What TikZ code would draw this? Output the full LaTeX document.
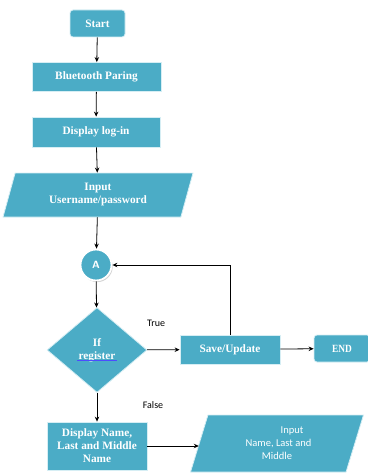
\documentclass[tikz,border=0pt]{standalone}
\usepackage{fontspec}
\setmainfont{Liberation Serif}
\newfontfamily\labelfont{Carlito}
\usetikzlibrary{shapes.geometric,shadows,arrows.meta}
\definecolor{flowblue}{HTML}{4BACC6}
\definecolor{edgeblue}{HTML}{D6EEF4}
\begin{document}
\begin{tikzpicture}[x=1pt,y=-1pt,
  box/.style={draw=edgeblue, line width=0.8pt, fill=flowblue, text=white,
    font=\bfseries\fontsize{11.3}{13}\selectfont, align=center, inner sep=0pt},
  iobox/.style={box, trapezium, trapezium stretches body,
    trapezium left angle=62, trapezium right angle=118},
  conn/.style={-{Stealth[length=5pt,width=4.5pt]}, line width=0.8pt},
  lbl/.style={font=\labelfont\fontsize{10}{12}\selectfont}]
\useasboundingbox (0,0) rectangle (367,473);

% main column
\node[box, rounded corners=3pt, minimum width=55pt, minimum height=27pt] (start) at (97.5,23.5) {Start};
\node[box, minimum width=129pt, minimum height=29pt] (bt) at (96.5,77) {Bluetooth Paring};
\node[box, minimum width=128pt, minimum height=30pt] (login) at (96,132) {Display log-in};
\node[iobox, minimum width=190pt, minimum height=44pt] (input) at (98,195)
      {Input\\Username/password};
\node[circle, fill=flowblue, draw=white, line width=1.8pt, minimum size=31pt, inner sep=0pt,
      text=white, font=\sffamily\bfseries\fontsize{10.5}{12}\selectfont,
      drop shadow={shadow xshift=1.2pt, shadow yshift=-1.6pt, fill=black!35}] (a) at (96,265) {A};
\node[box, diamond, aspect=1.18, minimum width=100pt, minimum height=85pt] (dec) at (97,350)
      {If\\register};
\draw[blue!70, line width=0.7pt] ([xshift=-20pt,yshift=-10pt]dec.center) -- ([xshift=20pt,yshift=-10pt]dec.center);
\node[box, minimum width=100pt, minimum height=48pt] (disp) at (97,446)
      {Display Name,\\Last and Middle\\Name};

% right branch
\node[box, minimum width=100pt, minimum height=29pt] (save) at (230,349.5) {Save/Update};
\node[box, rounded corners=3pt, minimum width=56pt, minimum height=27pt,
      font=\bfseries\fontsize{11}{12}\selectfont] (fin) at (342,348.5) {\scalebox{0.85}[1]{END}};
\node[iobox, minimum width=173pt, minimum height=57pt,
      font=\labelfont\fontsize{10.5}{13}\selectfont] (inname) at (277,443.5)
      {\hspace*{30pt}Input\\\hspace*{3pt}Name, Last and\\Middle};

% connectors
\draw[conn] (start) -- (bt);
\draw[conn] (bt) -- (login);
\draw[conn] (login) -- (input);
\draw[conn] (input) -- (a);
\draw[conn] (a) -- (dec);
\draw[conn] (dec) -- (save);
\draw[conn] (save) -- (fin);
\draw[conn] (dec) -- (disp);
\draw[conn] (disp) -- (inname.west |- disp);
\coordinate (loop) at (save.north |- a);
\draw[conn] (save.north) -- (loop) -- (a);

% branch labels
\node[lbl] (ltrue) at (156,323) {True};
\node[lbl] (lfalse) at (153,405) {False};
\end{tikzpicture}
\end{document}
